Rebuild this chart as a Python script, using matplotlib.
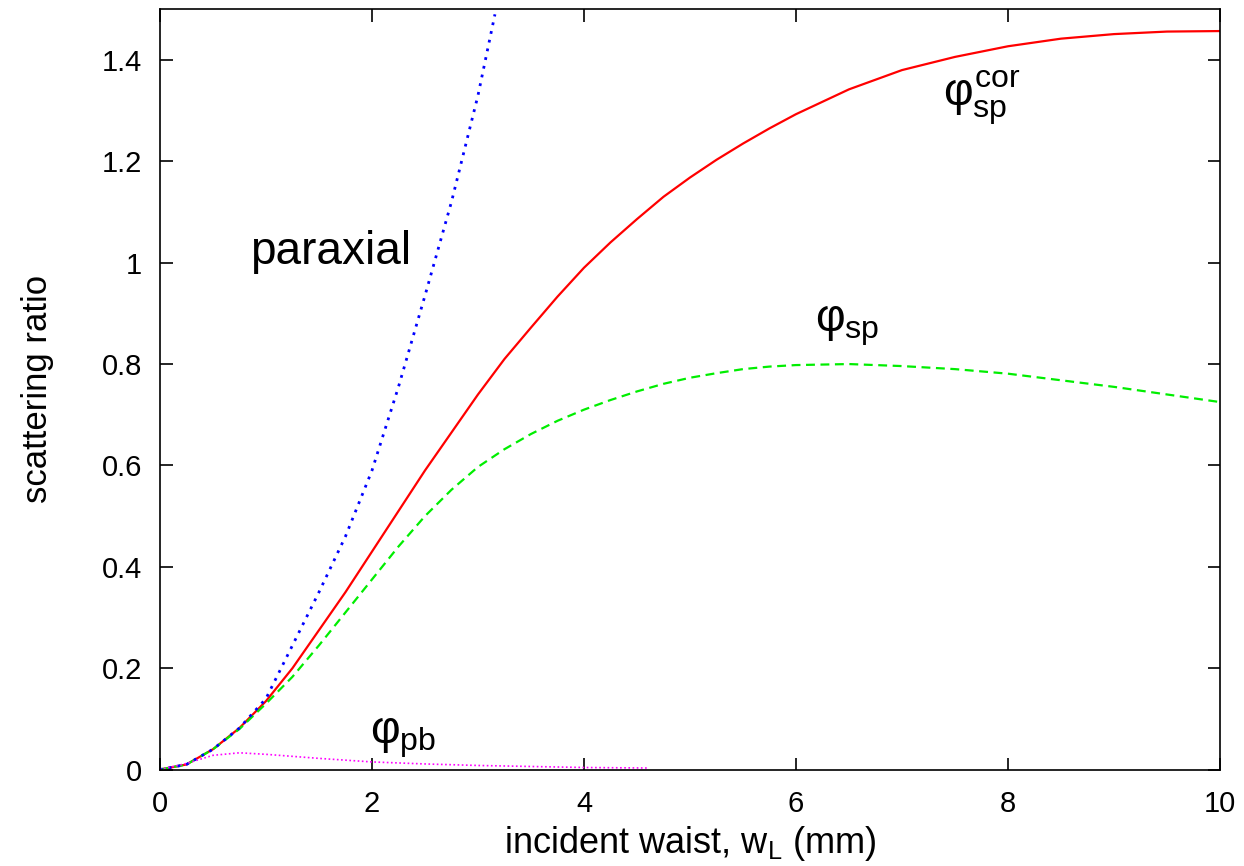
import numpy as np
import matplotlib.pyplot as plt

plt.rcParams['font.family'] = ['Liberation Sans', 'DejaVu Sans']
plt.rcParams['mathtext.fontset'] = 'custom'
plt.rcParams['mathtext.rm'] = 'Liberation Sans'
plt.rcParams['mathtext.it'] = 'Liberation Sans'
plt.rcParams['mathtext.bf'] = 'Liberation Sans:bold'

# phi_sp^cor (red) and phi_sp (green)
w_sp = [0, 0.25, 0.5, 0.75, 1.0, 1.25, 1.5, 1.75, 2.0, 2.25, 2.5, 2.75,
        3.0, 3.25, 3.5, 3.75, 4.0, 4.25, 4.5, 4.75, 5.0, 5.25, 5.5, 5.75,
        6.0, 6.5, 7.0, 7.5, 8.0, 8.5, 9.0, 9.5, 10.0]
phi_cor = [0, 0.01, 0.04, 0.082, 0.135, 0.20, 0.275, 0.35, 0.43, 0.51, 0.59,
           0.665, 0.74, 0.81, 0.872, 0.933, 0.99, 1.04, 1.086, 1.13, 1.168,
           1.203, 1.235, 1.265, 1.293, 1.342, 1.38, 1.406, 1.427, 1.442,
           1.451, 1.456, 1.457]
phi_sp = [0, 0.01, 0.04, 0.08, 0.13, 0.183, 0.245, 0.31, 0.375, 0.44, 0.50,
          0.552, 0.597, 0.632, 0.662, 0.688, 0.71, 0.729, 0.746, 0.761,
          0.773, 0.782, 0.79, 0.795, 0.798, 0.80, 0.796, 0.79, 0.781,
          0.768, 0.755, 0.74, 0.725]

# paraxial (blue)
w_par = [0, 0.25, 0.5, 0.75, 1.0, 1.25, 1.5, 1.75, 2.0, 2.25, 2.5, 2.75, 3.0, 3.16]
phi_par = [0, 0.01, 0.04, 0.082, 0.14, 0.245, 0.35, 0.46, 0.59, 0.755, 0.935,
           1.12, 1.33, 1.49]

# phi_pb (magenta)
w_pb = [0, 0.25, 0.5, 0.75, 1.0, 1.5, 2.0, 2.5, 3.0, 3.5, 4.0, 4.6]
phi_pb = [0, 0.012, 0.028, 0.033, 0.03, 0.022, 0.015, 0.011, 0.008, 0.006,
          0.004, 0.003]

fig = plt.figure(figsize=(12.44, 8.66), dpi=100)
ax = fig.add_axes([0.1286, 0.1114, 0.8521, 0.8779])

ax.plot(w_sp, phi_cor, color='#ff0000', lw=1.6)
ax.plot(w_sp, phi_sp, color='#00ee00', lw=1.6, linestyle=(0, (4, 2.5)))
ax.plot(w_par, phi_par, color='#0000ff', lw=2.0, linestyle=(0, (1, 2.2)))
ax.plot(w_pb, phi_pb, color='#ff00ff', lw=1.2, linestyle=(0, (1, 1.5)))

ax.text(0.85, 0.997, 'paraxial', fontsize=33)
ax.text(7.39, 1.31, r'$\varphi_{\rm sp}^{\rm cor}$', fontsize=33)
ax.text(6.18, 0.865, r'$\varphi_{\rm sp}$', fontsize=33)
ax.text(1.98, 0.052, r'$\varphi_{\rm pb}$', fontsize=33)

ax.set_xlim(0, 10)
ax.set_ylim(0, 1.5)
ax.set_xticks([0, 2, 4, 6, 8, 10])
ax.set_xticklabels(['0', '2', '4', '6', '8', '10'])
ax.set_yticks([0, 0.2, 0.4, 0.6, 0.8, 1.0, 1.2, 1.4])
ax.set_yticklabels(['0', '0.2', '0.4', '0.6', '0.8', '1', '1.2', '1.4'])
ax.tick_params(direction='in', length=9, width=1.2, top=True, right=True,
               labelsize=21)
ax.tick_params(axis='y', pad=13)
ax.tick_params(axis='x', pad=15)
for s in ax.spines.values():
    s.set_linewidth(1.2)

ax.set_xlabel(r'incident waist, w$_{\rm L}$ (mm)', fontsize=26, labelpad=4)
ax.set_ylabel('scattering ratio', fontsize=25, labelpad=34)

fig.savefig('out.png', dpi=100)
